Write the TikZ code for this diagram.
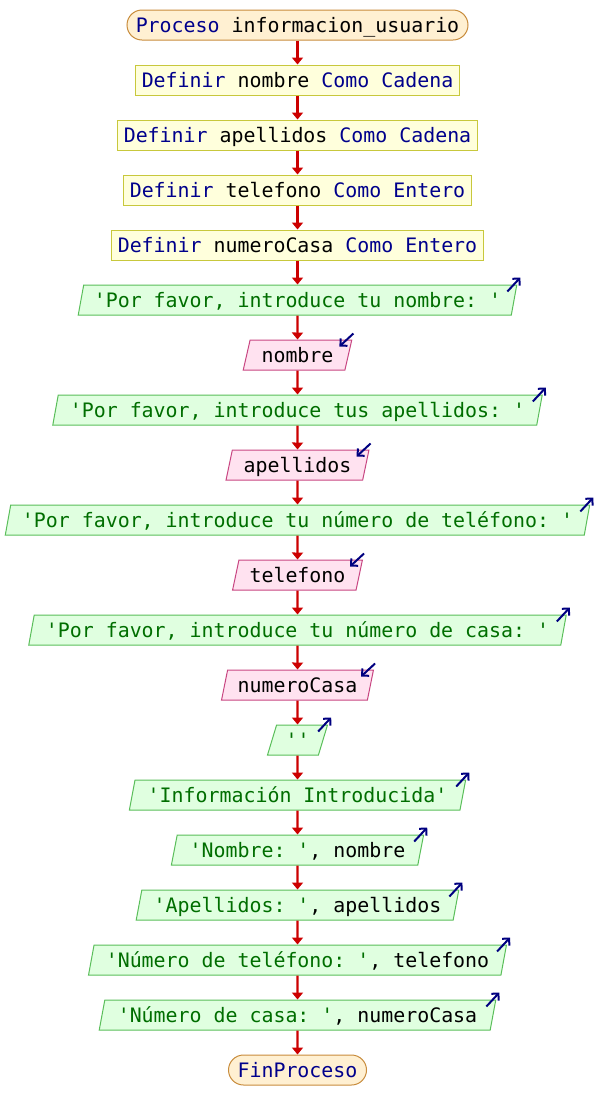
\documentclass[tikz,border=0pt]{standalone}
\usepackage{xcolor}
\usepackage{fontspec}
\setmonofont{DejaVu Sans Mono}
\usepackage{tikz}
\usetikzlibrary{shapes.geometric,positioning,calc,arrows.meta}

\definecolor{kwblue}{RGB}{0,0,140}
\definecolor{strgreen}{RGB}{0,110,0}
\definecolor{termfill}{RGB}{255,240,210}
\definecolor{termedge}{RGB}{200,140,60}
\definecolor{deffill}{RGB}{255,255,220}
\definecolor{defedge}{RGB}{200,200,60}
\definecolor{outfill}{RGB}{224,255,224}
\definecolor{outedge}{RGB}{90,190,90}
\definecolor{infill}{RGB}{255,226,240}
\definecolor{inedge}{RGB}{200,70,130}
\definecolor{flowred}{RGB}{204,0,0}
\definecolor{markblue}{RGB}{0,0,128}

\newcommand{\kw}[1]{\textcolor{kwblue}{#1}}
\newcommand{\strtxt}[1]{\textcolor{strgreen}{#1}}

\tikzset{
  every node/.style={font=\fontsize{19.9}{24}\selectfont\ttfamily\frenchspacing, text height=15pt, text depth=1pt, inner xsep=0pt, inner ysep=0pt, minimum height=30pt},
  terminal/.style={rectangle, rounded corners=15pt, draw=termedge, fill=termfill, line width=1pt},
  defbox/.style={rectangle, draw=defedge, fill=deffill, line width=1pt},
  slanted/.style={trapezium, trapezium left angle=72, trapezium right angle=108, trapezium stretches=true, line width=1pt},
  outarrow/.style={draw=markblue, line width=2pt, -{Straight Barb[length=5pt,width=10pt]}},
  outbox/.style={slanted, draw=outedge, fill=outfill,
    append after command={([shift={(-10,7)}]\tikzlastnode.top right corner) edge[outarrow] ([shift={(3,-7)}]\tikzlastnode.top right corner)}},
  inbox/.style={slanted, draw=inedge, fill=infill,
    append after command={([shift={(1,-6)}]\tikzlastnode.top right corner) edge[outarrow] ([shift={(-13,7)}]\tikzlastnode.top right corner)}},
  flow/.style={draw=flowred, line width=2.2pt, -{Triangle[width=11pt,length=7pt]}}
}

\begin{document}
\begin{tikzpicture}[x=1pt, y=-1pt]
    \useasboundingbox (0,0) rectangle (596,1120);

    % Start and definitions
    \node [terminal, minimum width=341pt] (inicio) at (297.5,25) {\kw{Proceso} informacion\_usuario};
    \node [defbox, minimum width=324pt] (defnombre) at (297.5,80) {\kw{Definir} nombre \kw{Como Cadena}};
    \node [defbox, minimum width=360pt] (defapellidos) at (297.5,135) {\kw{Definir} apellidos \kw{Como Cadena}};
    \node [defbox, minimum width=348pt] (deftelefono) at (297.5,190) {\kw{Definir} telefono \kw{Como Entero}};
    \node [defbox, minimum width=372pt] (defcasa) at (297.5,245) {\kw{Definir} numeroCasa \kw{Como Entero}};

    % Questions and readings
    \node [outbox, minimum width=441pt] (askNombre) at (297.5,300) {\strtxt{'Por favor, introduce tu nombre: '}};
    \node [inbox, minimum width=109pt] (readNombre) at (297.5,355) {nombre};
    \node [outbox, minimum width=492pt] (askApellidos) at (297.5,410) {\strtxt{'Por favor, introduce tus apellidos: '}};
    \node [inbox, minimum width=143pt] (readApellidos) at (297.5,465) {apellidos};
    \node [outbox, minimum width=588pt] (askTelefono) at (297.5,520) {\strtxt{'Por favor, introduce tu número de teléfono: '}};
    \node [inbox, minimum width=130pt] (readTelefono) at (297.5,575) {telefono};
    \node [outbox, minimum width=540pt] (askCasa) at (297.5,630) {\strtxt{'Por favor, introduce tu número de casa: '}};
    \node [inbox, minimum width=152pt] (readCasa) at (297.5,685) {numeroCasa};

    % Summary output
    \node [outbox, minimum width=60pt] (blank) at (297.5,740) {\strtxt{''}};
    \node [outbox, minimum width=337pt] (titulo) at (297.5,795) {\strtxt{'Información Introducida'}};
    \node [outbox, minimum width=253pt] (showNombre) at (297.5,850) {\strtxt{'Nombre: '}, nombre};
    \node [outbox, minimum width=324pt] (showApellidos) at (297.5,905) {\strtxt{'Apellidos: '}, apellidos};
    \node [outbox, minimum width=419pt] (showTelefono) at (297.5,960) {\strtxt{'Número de teléfono: '}, telefono};
    \node [outbox, minimum width=397pt] (showCasa) at (297.5,1015) {\strtxt{'Número de casa: '}, numeroCasa};
    \node [terminal, minimum width=138pt] (fin) at (297.5,1070) {\kw{FinProceso}};

    % Flow arrows
    \draw [flow] (inicio) -- (defnombre);
    \draw [flow] (defnombre) -- (defapellidos);
    \draw [flow] (defapellidos) -- (deftelefono);
    \draw [flow] (deftelefono) -- (defcasa);
    \draw [flow] (defcasa) -- (askNombre);
    \draw [flow] (askNombre) -- (readNombre);
    \draw [flow] (readNombre) -- (askApellidos);
    \draw [flow] (askApellidos) -- (readApellidos);
    \draw [flow] (readApellidos) -- (askTelefono);
    \draw [flow] (askTelefono) -- (readTelefono);
    \draw [flow] (readTelefono) -- (askCasa);
    \draw [flow] (askCasa) -- (readCasa);
    \draw [flow] (readCasa) -- (blank);
    \draw [flow] (blank) -- (titulo);
    \draw [flow] (titulo) -- (showNombre);
    \draw [flow] (showNombre) -- (showApellidos);
    \draw [flow] (showApellidos) -- (showTelefono);
    \draw [flow] (showTelefono) -- (showCasa);
    \draw [flow] (showCasa) -- (fin);

\end{tikzpicture}
\end{document}
